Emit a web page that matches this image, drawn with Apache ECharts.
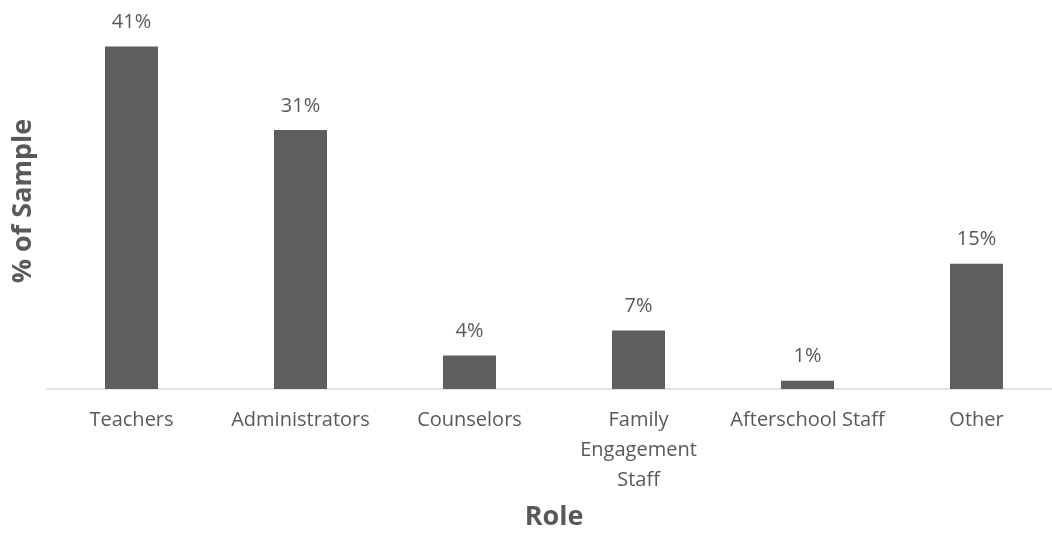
<!DOCTYPE html>
<html>
<head>
<meta charset="utf-8">
<script src="https://cdn.jsdelivr.net/npm/echarts@6/dist/echarts.min.js"></script>
<style>
  html, body { margin: 0; padding: 0; background: #fff; }
  #chart { width: 1052px; height: 533px; }
</style>
</head>
<body>
<div id="chart"></div>
<script>
// Share of survey respondents by role
const roles = ['Teachers', 'Administrators', 'Counselors', 'Family\nEngagement\nStaff', 'Afterschool Staff', 'Other'];
const shares = [41, 31, 4, 7, 1, 15];
const xTitle = 'Role';
const yTitle = '% of Sample';

const textColor = '#595959';
const font = '"Open Sans", sans-serif';

const chart = echarts.init(document.getElementById('chart'));
chart.setOption({
  animation: false,
  grid: { left: 47, top: 13, width: 1014, bottom: 144, containLabel: false, outerBoundsMode: 'none' },
  xAxis: {
    type: 'category',
    data: roles,
    axisLine: { lineStyle: { color: '#d9d9d9', width: 1.5 } },
    axisTick: { show: false },
    axisLabel: {
      color: textColor, fontFamily: font, fontSize: 20,
      lineHeight: 30, margin: 16, interval: 0
    },
    name: xTitle,
    nameLocation: 'middle',
    nameGap: 115,
    nameTextStyle: { color: textColor, fontFamily: font, fontSize: 27, fontWeight: 'bold' }
  },
  yAxis: {
    type: 'value',
    min: 0, max: 45,
    show: true,
    axisLine: { show: false },
    axisTick: { show: false },
    axisLabel: { show: false },
    splitLine: { show: false },
    name: yTitle,
    nameLocation: 'middle',
    nameGap: 10,
    nameTextStyle: { color: textColor, fontFamily: font, fontSize: 27, fontWeight: 'bold' }
  },
  series: [{
    type: 'bar',
    data: shares,
    barWidth: 53,
    itemStyle: { color: '#5e5e5e' },
    label: {
      show: true, position: 'top', distance: 14,
      formatter: p => p.value + '%',
      color: textColor, fontFamily: font, fontSize: 20
    }
  }]
});
</script>
</body>
</html>
